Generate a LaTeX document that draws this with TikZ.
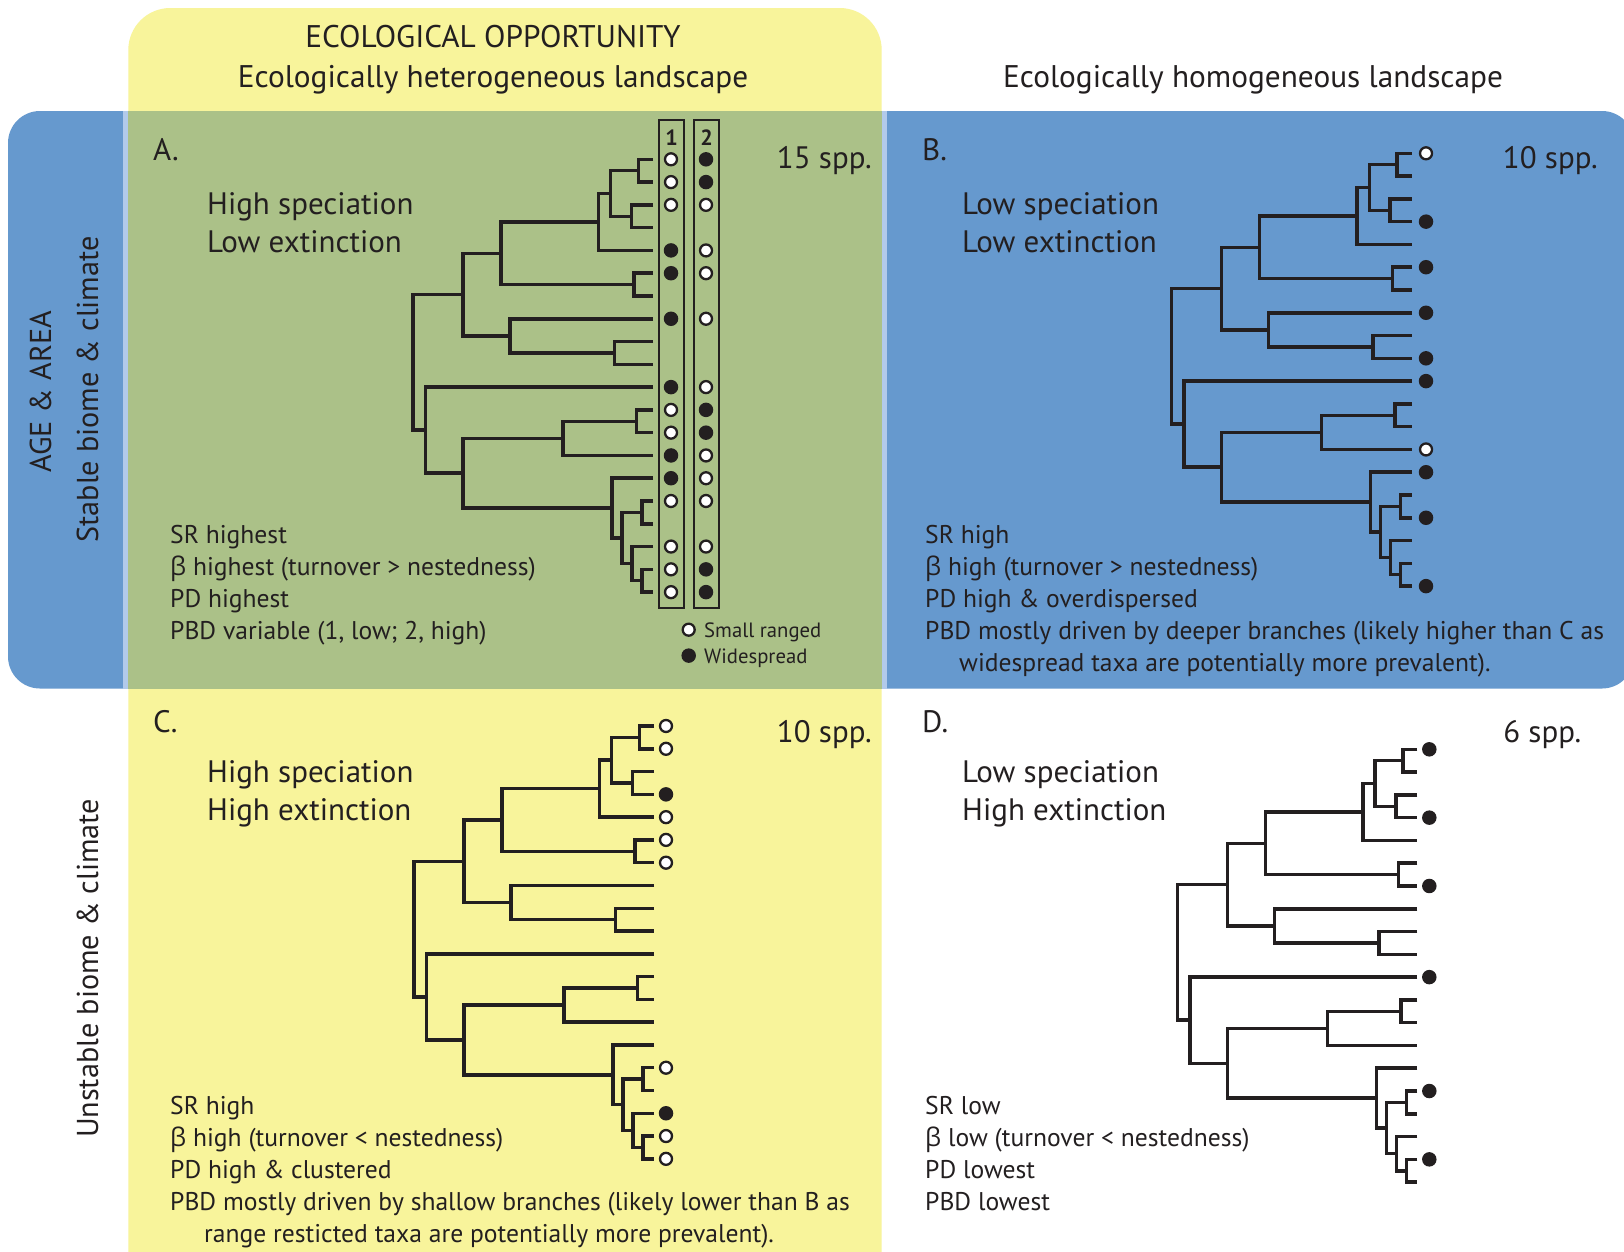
\documentclass[tikz,border=0pt]{standalone}
\usepackage{fontspec}
\setmainfont{PT Sans}
\newfontfamily\grk{Open Sans}
\definecolor{blueBG}{RGB}{102,153,206}
\definecolor{yellowBG}{RGB}{248,244,155}
\definecolor{greenBG}{RGB}{171,193,136}
\definecolor{stripBG}{RGB}{178,202,234}
\definecolor{ink}{RGB}{35,31,32}
\tikzset{
  branch/.style={line width=3.5pt, ink},
  fdot/.style={circle, fill=ink, draw=none, minimum size=14.5pt, inner sep=0pt},
  odot/.style={circle, fill=white, draw=ink, line width=2.3pt, minimum size=12pt, inner sep=0pt},
  colbox/.style={draw=ink, line width=2pt},
  big/.style={font=\fontsize{31}{33}\selectfont, text=ink, inner sep=0pt},
  stat/.style={font=\fontsize{25.6}{27}\selectfont, text=ink, inner sep=0pt},
  head/.style={font=\fontsize{31.3}{33}\selectfont, text=ink, inner sep=0pt},
  leg/.style={font=\fontsize{20.7}{22}\selectfont, text=ink, inner sep=0pt},
  side/.style={font=\fontsize{30.2}{32}\selectfont, text=ink, inner sep=0pt, rotate=90},
  colnum/.style={font=\bfseries\fontsize{22}{23}\selectfont, text=ink, inner sep=0pt},
}
\def\sp{22.78}
% #1 prefix, #2 tip-end x, #3 first tip y
\newcommand\phylo[3]{%
\begin{scope}[shift={(#2,#3)}]
 \foreach \k in {1,...,20}{\coordinate (#1t\k) at (0,{(\k-1)*\sp});}
 \coordinate (#1a) at (-14.5,{0.5*\sp});
 \coordinate (#1b) at (-21.5,{2.5*\sp});
 \coordinate (#1c) at (-42.3,{1.5*\sp});
 \coordinate (#1d) at (-54.5,{2.75*\sp});
 \coordinate (#1e) at (-19,{5.5*\sp});
 \coordinate (#1f) at (-152,{4.125*\sp});
 \coordinate (#1g) at (-38.5,{8.5*\sp});
 \coordinate (#1h) at (-143,{7.75*\sp});
 \coordinate (#1i) at (-190,{5.9375*\sp});
 \coordinate (#1j) at (-16.5,{11.5*\sp});
 \coordinate (#1k) at (-90,{12.25*\sp});
 \coordinate (#1l) at (-11,{15.5*\sp});
 \coordinate (#1m) at (-11,{18.5*\sp});
 \coordinate (#1n) at (-21,{17.75*\sp});
 \coordinate (#1o) at (-31,{16.625*\sp});
 \coordinate (#1p) at (-41,{15.3125*\sp});
 \coordinate (#1q) at (-190,{13.78125*\sp});
 \coordinate (#1r) at (-227.5,{11.890625*\sp});
 \coordinate (#1root) at (-240,{8.9140625*\sp});
 \draw[branch] (#1t1) -| (#1a) |- (#1t2);
 \draw[branch] (#1t3) -| (#1b) |- (#1t4);
 \draw[branch] (#1a) -| (#1c) |- (#1b);
 \draw[branch] (#1c) -| (#1d) |- (#1t5);
 \draw[branch] (#1t6) -| (#1e) |- (#1t7);
 \draw[branch] (#1d) -| (#1f) |- (#1e);
 \draw[branch] (#1t9) -| (#1g) |- (#1t10);
 \draw[branch] (#1t8) -| (#1h) |- (#1g);
 \draw[branch] (#1f) -| (#1i) |- (#1h);
 \draw[branch] (#1t12) -| (#1j) |- (#1t13);
 \draw[branch] (#1j) -| (#1k) |- (#1t14);
 \draw[branch] (#1t16) -| (#1l) |- (#1t17);
 \draw[branch] (#1t19) -| (#1m) |- (#1t20);
 \draw[branch] (#1t18) -| (#1n) |- (#1m);
 \draw[branch] (#1l) -| (#1o) |- (#1n);
 \draw[branch] (#1t15) -| (#1p) |- (#1o);
 \draw[branch] (#1k) -| (#1q) |- (#1p);
 \draw[branch] (#1t11) -| (#1r) |- (#1q);
 \draw[branch] (#1i) -| (#1root) |- (#1r);
\end{scope}}
\begin{document}
\begin{tikzpicture}[x=1pt,y=-1pt]
\useasboundingbox (0,0) rectangle (1624,1251);
\clip (0,0) rectangle (1624,1251);
\fill[white] (0,0) rectangle (1624,1251);
% backgrounds
\fill[blueBG, rounded corners=32pt] (8,111) rectangle (1634,688.5);
\fill[yellowBG, rounded corners=42pt] (128.3,8) rectangle (881.7,1300);
\fill[greenBG] (128.3,111) rectangle (881.7,688.5);
\fill[stripBG] (123.3,111) rectangle (128.3,688.5);
\fill[stripBG] (881.7,111) rectangle (886.7,688.5);
% headings
\node[head, anchor=base] (h1) at (493,47) {ECOLOGICAL OPPORTUNITY};
\node[head, anchor=base] (h2) at (493,87) {Ecologically heterogeneous landscape};
\node[head, anchor=base] (h3) at (1253,87) {Ecologically homogeneous landscape};
\node[side, anchor=base] (s1) at (51,392) {AGE \& AREA};
\node[side, anchor=base] (s2) at (98,389.4) {Stable biome \& climate};
\node[side, anchor=base] (s3) at (98,968.4) {Unstable biome \& climate};
% trees
\phylo{A}{653}{159.3}
\phylo{B}{1411.7}{153.3}
\phylo{C}{654}{726}
\phylo{D}{1417.3}{749.3}
% panel A columns
\draw[colbox] (659.3,120) rectangle (684,608.3);
\draw[colbox] (694,120) rectangle (719,608.3);
\node[colnum, anchor=base] (n1) at (671.6,145) {1};
\node[colnum, anchor=base] (n2) at (706.5,145) {2};
\foreach \k in {1,2,3,12,13,16,18,19,20} \node[odot] (Ao\k) at ([xshift=18pt]At\k) {};
\foreach \k in {5,6,8,11,14,15} \node[fdot] (Af\k) at ([xshift=18pt]At\k) {};
\foreach \k in {3,5,6,8,11,14,15,16,18} \node[odot] (Ap\k) at ([xshift=53pt]At\k) {};
\foreach \k in {1,2,12,13,19,20} \node[fdot] (Aq\k) at ([xshift=53pt]At\k) {};
% panel B dots
\foreach \k in {1,14} \node[odot] (Bo\k) at ([xshift=14.3pt]Bt\k) {};
\foreach \k in {4,6,8,10,11,15,17,20} \node[fdot] (Bf\k) at ([xshift=14.3pt]Bt\k) {};
% panel C dots
\foreach \k in {1,2,5,6,7,16,19,20} \node[odot] (Co\k) at ([xshift=12pt]Ct\k) {};
\foreach \k in {4,18} \node[fdot] (Cf\k) at ([xshift=12pt]Ct\k) {};
% panel D dots
\foreach \k in {1,4,7,11,16,19} \node[fdot] (Df\k) at ([xshift=12pt]Dt\k) {};
% legend
\node[odot] (lo) at (688.7,629.7) {};
\node[fdot] (lf) at (688.7,655.6) {};
\node[leg, anchor=base west] (lot) at (704,637) {Small ranged};
\node[leg, anchor=base west] (lft) at (704,663) {Widespread};
% panel A text
\node[big, anchor=base west] (Al) at (153,160) {A.};
\node[big, anchor=base east] (As) at (872,168) {15 spp.};
\node[big, anchor=base west] (A1) at (207,214) {High speciation};
\node[big, anchor=base west] (A2) at (207,252) {Low extinction};
\node[stat, anchor=base west] (A3) at (170,543.5) {SR highest};
\node[stat, anchor=base west] (A4) at (170,575.6) {{\grk β} highest (turnover > nestedness)};
\node[stat, anchor=base west] (A5) at (170,607.7) {PD highest};
\node[stat, anchor=base west] (A6) at (170,639.8) {PBD variable (1, low; 2, high)};
% panel B text
\node[big, anchor=base west] (Bl) at (922,160) {B.};
\node[big, anchor=base east] (Bs) at (1598,168) {10 spp.};
\node[big, anchor=base west] (B1) at (962,214) {Low speciation};
\node[big, anchor=base west] (B2) at (962,252) {Low extinction};
\node[stat, anchor=base west] (B3) at (925,543.5) {SR high};
\node[stat, anchor=base west] (B4) at (925,575.6) {{\grk β} high (turnover > nestedness)};
\node[stat, anchor=base west] (B5) at (925,607.7) {PD high \& overdispersed};
\node[stat, anchor=base west] (B6) at (925,639.8) {PBD mostly driven by deeper branches (likely higher than C as};
\node[stat, anchor=base west] (B7) at (959,671.9) {widespread taxa are potentially more prevalent).};
% panel C text
\node[big, anchor=base west] (Cl) at (153,732) {C.};
\node[big, anchor=base east] (Cs) at (872,742) {10 spp.};
\node[big, anchor=base west] (C1) at (207,782.6) {High speciation};
\node[big, anchor=base west] (C2) at (207,820) {High extinction};
\node[stat, anchor=base west] (C3) at (170,1114) {SR high};
\node[stat, anchor=base west] (C4) at (170,1146.2) {{\grk β} high (turnover < nestedness)};
\node[stat, anchor=base west] (C5) at (170,1178.3) {PD high \& clustered};
\node[stat, anchor=base west] (C6) at (170,1210.5) {PBD mostly driven by shallow branches (likely lower than B as};
\node[stat, anchor=base west] (C7) at (204,1242.6) {range resticted taxa are potentially more prevalent).};
% panel D text
\node[big, anchor=base west] (Dl) at (922,732) {D.};
\node[big, anchor=base east] (Ds) at (1581.5,742) {6 spp.};
\node[big, anchor=base west] (D1) at (962,782.6) {Low speciation};
\node[big, anchor=base west] (D2) at (962,820) {High extinction};
\node[stat, anchor=base west] (D3) at (925,1114) {SR low};
\node[stat, anchor=base west] (D4) at (925,1146.2) {{\grk β} low (turnover < nestedness)};
\node[stat, anchor=base west] (D5) at (925,1178.3) {PD lowest};
\node[stat, anchor=base west] (D6) at (925,1210.5) {PBD lowest};
\end{tikzpicture}
\end{document}
